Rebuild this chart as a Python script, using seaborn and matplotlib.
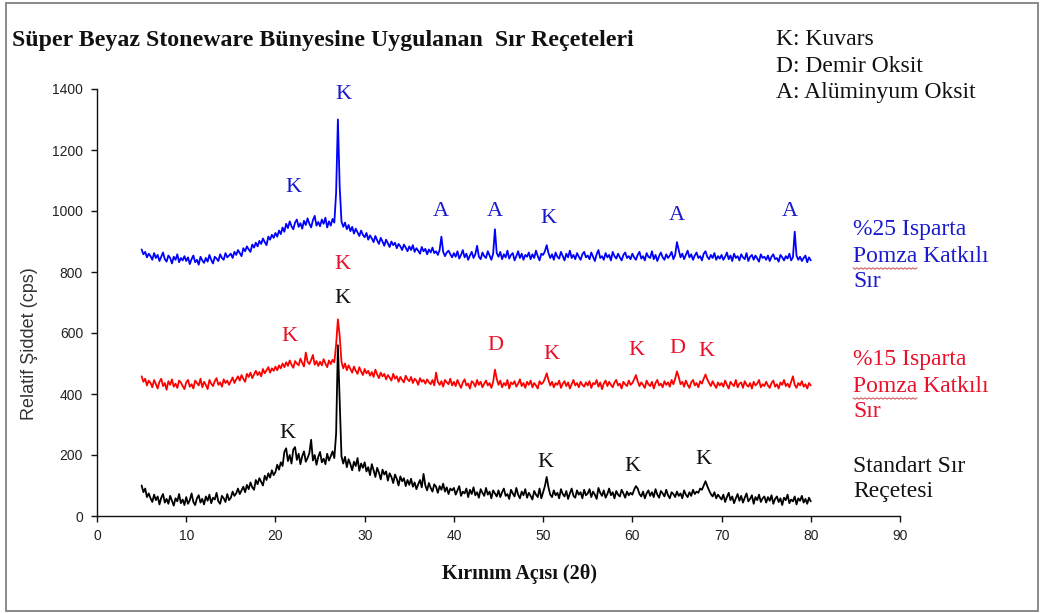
import numpy as np
import pandas as pd
import matplotlib
matplotlib.use("Agg")
import matplotlib.pyplot as plt
from matplotlib.patches import Rectangle
from matplotlib.lines import Line2D
import seaborn as sns

# Scan angles (2-theta), 0.2 degree step from 5 to 80
aci = np.round(np.arange(5.0, 80.0 + 0.1, 0.2), 2)

# Standard glaze recipe (cps)
standart = [
    100, 78, 90, 62, 74, 58, 46, 70, 52, 64, 38, 60, 72, 44, 56, 40, 66, 50, 34, 58, 48, 72, 42, 54, 36,
    62, 40, 52, 74, 46, 36, 58, 68, 44, 56, 38, 64, 50, 70, 42, 60, 54, 76, 48, 40, 66, 58, 46, 72, 52,
    60, 80, 66, 74, 90, 72, 84, 96, 78, 102, 88, 110, 94, 86, 118, 104, 124, 112, 100, 132, 118, 140, 126, 150, 134,
    144, 168, 152, 176, 164, 210, 222, 180, 200, 172, 218, 226, 184, 204, 170, 196, 212, 178, 190, 206, 250, 182, 200, 168, 194,
    210, 176, 188, 170, 204, 182, 196, 212, 190, 270, 560, 380, 196, 172, 194, 160, 186, 170, 150, 178, 164, 190, 148, 172, 158,
    176, 146, 160, 134, 170, 150, 128, 158, 142, 120, 152, 136, 146, 116, 140, 128, 108, 136, 122, 100, 130, 114, 124, 98, 118,
    102, 122, 96, 110, 88, 104, 118, 94, 138, 100, 84, 108, 92, 80, 104, 96, 76, 98, 86, 106, 80, 94, 72, 90, 84,
    92, 70, 84, 98, 66, 80, 74, 90, 62, 86, 72, 94, 68, 78, 60, 88, 76, 66, 92, 70, 80, 58, 84, 74, 64,
    84, 62, 78, 90, 66, 72, 56, 86, 74, 64, 92, 70, 58, 80, 68, 88, 60, 76, 66, 54, 82, 70, 62, 90, 58,
    78, 98, 128, 94, 70, 62, 84, 68, 76, 58, 88, 72, 64, 82, 56, 74, 90, 66, 60, 84, 70, 78, 58, 86, 68,
    74, 88, 62, 80, 70, 56, 92, 76, 66, 84, 60, 72, 90, 68, 78, 58, 82, 70, 64, 86, 74, 60, 80, 68, 76,
    70, 86, 98, 90, 72, 64, 80, 58, 74, 84, 66, 78, 62, 88, 70, 60, 82, 74, 64, 86, 68, 58, 78, 72, 62,
    80, 66, 74, 58, 84, 70, 62, 78, 66, 86, 72, 80, 76, 90, 86, 100, 114, 98, 84, 72, 64, 78, 58, 70, 62,
    54, 70, 46, 62, 76, 52, 64, 42, 58, 72, 50, 66, 44, 60, 74, 48, 56, 68, 40, 62, 52, 70, 46, 58, 64,
    44, 62, 50, 68, 40, 56, 64, 46, 58, 36, 60, 52, 70, 42, 54, 48, 64, 38, 58, 50, 66, 44, 56, 40, 60,
    48,
]

# %15 Isparta pumice added glaze (cps)
pomza15 = [
    458, 440, 450, 428, 444, 436, 422, 446, 432, 418, 440, 450, 426, 436, 414, 442, 430, 448, 424, 434, 420, 444, 438, 426, 416,
    438, 446, 424, 432, 418, 444, 436, 428, 450, 422, 440, 430, 416, 446, 434, 426, 442, 452, 430, 438, 424, 448, 436, 444, 430,
    442, 454, 436, 448, 458, 444, 462, 450, 440, 466, 456, 470, 452, 464, 476, 462, 472, 458, 482, 468, 478, 488, 470, 484, 476,
    490, 478, 494, 484, 500, 488, 504, 492, 510, 496, 486, 508, 500, 494, 516, 502, 490, 536, 506, 498, 512, 528, 496, 508, 492,
    506, 494, 514, 500, 488, 510, 498, 512, 504, 562, 645, 590, 506, 484, 500, 478, 494, 482, 470, 490, 476, 466, 488, 474, 462,
    482, 468, 476, 460, 472, 456, 480, 464, 452, 470, 458, 466, 448, 462, 454, 444, 466, 450, 458, 440, 456, 446, 438, 460, 448,
    442, 456, 436, 450, 444, 430, 452, 440, 446, 434, 448, 438, 432, 446, 428, 470, 440, 430, 442, 424, 446, 438, 432, 450, 428,
    440, 426, 446, 432, 420, 438, 448, 428, 434, 418, 442, 436, 424, 446, 430, 440, 422, 434, 444, 428, 436, 420, 440, 480, 450,
    430, 444, 422, 436, 428, 446, 418, 438, 432, 442, 424, 434, 448, 426, 436, 420, 440, 430, 444, 422, 436, 428, 418, 442, 432,
    438, 450, 468, 446, 428, 440, 422, 436, 430, 444, 420, 434, 442, 426, 438, 418, 432, 446, 428, 436, 422, 440, 430, 424, 438,
    428, 442, 420, 436, 432, 446, 424, 438, 416, 434, 444, 426, 440, 430, 422, 438, 446, 428, 434, 418, 440, 432, 426, 444, 430,
    436, 448, 462, 442, 426, 438, 430, 420, 444, 432, 426, 440, 418, 436, 446, 428, 434, 422, 442, 430, 438, 424, 446, 432, 450,
    474, 456, 432, 440, 424, 444, 430, 420, 438, 446, 428, 436, 422, 442, 434, 450, 464, 448, 436, 426, 442, 430, 420, 438, 428,
    436, 424, 444, 430, 418, 440, 432, 426, 446, 422, 434, 438, 420, 442, 430, 424, 436, 418, 440, 428, 434, 446, 422, 432, 426,
    440, 428, 420, 436, 444, 424, 432, 418, 438, 430, 446, 426, 434, 422, 440, 458, 430, 420, 436, 428, 442, 424, 432, 418, 436,
    428,
]

# %25 Isparta pumice added glaze (cps)
pomza25 = [
    874, 858, 866, 848, 860, 852, 840, 862, 846, 856, 836, 850, 864, 842, 834, 854, 846, 828, 850, 840, 858, 832, 846, 838, 852,
    836, 848, 826, 842, 854, 832, 840, 824, 850, 838, 830, 846, 834, 856, 840, 828, 850, 844, 836, 858, 846, 840, 862, 848, 854,
    860, 846, 866, 856, 872, 862, 852, 878, 868, 884, 874, 866, 890, 880, 896, 884, 902, 892, 910, 898, 888, 916, 906, 922, 912,
    928, 916, 936, 924, 946, 932, 958, 944, 966, 950, 940, 962, 972, 948, 960, 942, 968, 954, 976, 958, 946, 970, 984, 952, 964,
    950, 972, 958, 978, 946, 966, 952, 974, 962, 1060, 1300, 1080, 966, 948, 962, 940, 954, 934, 948, 926, 942, 930, 918, 936, 922,
    914, 928, 906, 920, 910, 898, 918, 904, 892, 912, 900, 886, 906, 894, 882, 900, 888, 896, 878, 892, 884, 872, 890, 880, 868,
    884, 872, 888, 866, 878, 870, 860, 882, 868, 876, 858, 874, 864, 880, 862, 868, 856, 872, 916, 866, 852, 864, 870, 858, 848,
    862, 850, 868, 844, 856, 872, 848, 860, 840, 854, 866, 846, 858, 886, 850, 842, 864, 852, 846, 868, 854, 840, 860, 940, 862,
    850, 866, 842, 858, 848, 870, 844, 856, 862, 838, 852, 868, 846, 860, 840, 856, 850, 864, 842, 858, 846, 870, 852, 838, 860,
    856, 868, 888, 862, 846, 858, 840, 864, 850, 844, 866, 852, 838, 860, 848, 870, 846, 856, 842, 862, 850, 840, 858, 866, 848,
    854, 842, 864, 850, 836, 858, 872, 846, 852, 840, 862, 848, 856, 838, 866, 852, 844, 860, 848, 838, 856, 864, 846, 852, 842,
    860, 848, 840, 856, 866, 844, 852, 838, 862, 850, 846, 868, 842, 856, 836, 852, 864, 848, 840, 858, 846, 854, 866, 842, 856,
    898, 872, 848, 860, 842, 856, 870, 848, 858, 840, 854, 864, 846, 852, 838, 860, 868, 850, 842, 856, 846, 862, 840, 852, 844,
    856, 840, 850, 864, 842, 854, 836, 860, 846, 852, 838, 858, 848, 842, 862, 836, 850, 856, 840, 854, 844, 834, 858, 846, 850,
    840, 854, 836, 850, 858, 842, 846, 834, 856, 848, 838, 852, 844, 860, 838, 848, 932, 854, 840, 850, 836, 846, 854, 832, 848,
    838,
]

for _seri in (standart, pomza15, pomza25):
    if len(_seri) != len(aci):
        raise ValueError(f"series length {len(_seri)} != {len(aci)}")

seri_adlari = ["Standart Sır Reçetesi", "%15 Isparta Pomza Katkılı Sır", "%25 Isparta Pomza Katkılı Sır"]
seri_renkleri = ["#000000", "#ff0000", "#0000ff"]
etiket_renkleri = ["#111111", "#e8102a", "#1a1acc"]

x_ticks = list(range(0, 91, 10))
y_ticks = list(range(0, 1401, 200))

# Phase letters per series: letter, angle, label height
faz_harfleri = [
    [("K", 21.3, 272), ("K", 27.5, 712), ("K", 50.3, 174), ("K", 60.0, 161), ("K", 68.0, 184)],
    [("K", 21.6, 587), ("K", 27.5, 823), ("D", 44.6, 558), ("K", 50.9, 531),
     ("K", 60.5, 541), ("D", 65.0, 548), ("K", 68.3, 538)],
    [("K", 22.0, 1076), ("K", 27.6, 1381), ("A", 38.5, 1000), ("A", 44.6, 1000),
     ("K", 50.6, 974), ("A", 65.0, 984), ("A", 77.7, 997)],
]

seri_yazilari = [
    ["Standart Sır", "Reçetesi"],
    ["%15 Isparta", "Pomza Katkılı", "Sır"],
    ["%25 Isparta", "Pomza Katkılı", "Sır"],
]

aciklama = ["K: Kuvars", "D: Demir Oksit", "A: Alüminyum Oksit"]
baslik = "Süper Beyaz Stoneware Bünyesine Uygulanan  Sır Reçeteleri"
x_baslik = "Kırınım Açısı (2θ)"
y_baslik = "Relatif Şiddet (cps)"

sns.set_style("ticks")
plt.rcParams["font.family"] = ["Liberation Sans", "DejaVu Sans"]
SERIF = ["Liberation Serif", "DejaVu Serif"]

W, H = 1043, 613
fig = plt.figure(figsize=(W / 100, H / 100), dpi=100)
ax = fig.add_axes([97 / W, 1 - 516 / H, (900 - 97) / W, (516 - 89) / H])


def fx(px):
    return px / W


def fy(py):
    return 1 - py / H


df = pd.concat([
    pd.DataFrame({"aci": aci, "siddet": vals, "seri": name})
    for name, vals in zip(seri_adlari, [standart, pomza15, pomza25])
], ignore_index=True)

sns.lineplot(data=df, x="aci", y="siddet", hue="seri", hue_order=seri_adlari,
             palette=seri_renkleri, estimator=None, sort=False, linewidth=1.3,
             legend=False, ax=ax)

ax.set_xlim(0, 90)
ax.set_ylim(0, 1400)
ax.set_xticks(x_ticks)
ax.set_yticks(y_ticks)
ax.set_xlabel("")
ax.set_ylabel("")
for side in ("top", "right"):
    ax.spines[side].set_visible(False)
for side in ("left", "bottom"):
    ax.spines[side].set_color("#111111")
    ax.spines[side].set_linewidth(1.0)
ax.tick_params(axis="both", direction="out", length=4, width=1.0, color="#111111",
               labelsize=10, labelcolor="#222222")
ax.tick_params(axis="y", pad=6)
ax.tick_params(axis="x", pad=5)

# Phase letters above the peaks
for renk, harfler in zip(etiket_renkleri, faz_harfleri):
    for harf, xa, ya in harfler:
        ax.text(xa, ya, harf, color=renk, fontsize=16, family=SERIF,
                ha="center", va="center")

# Series names on the right
satir_y = [[472, 497], [365, 392, 417], [235, 262, 287]]
pomza_satirlari = []
for renk, satirlar, ys in zip(etiket_renkleri, seri_yazilari, satir_y):
    for s, py in zip(satirlar, ys):
        fig.text(fx(853), fy(py), s, color=renk, fontsize=17, family=SERIF,
                 ha="left", va="baseline")
        if s.startswith("Pomza"):
            pomza_satirlari.append(py)

# Phase key
for s, py in zip(aciklama, [45, 72, 98]):
    fig.text(fx(776), fy(py), s, color="#111111", fontsize=17, family=SERIF,
             ha="left", va="baseline")

fig.text(fx(12), fy(46), baslik, fontsize=17.2, fontweight="bold", family=SERIF,
         color="#111111", ha="left", va="baseline")
fig.text(fx(520), fy(579), x_baslik, fontsize=14.5, fontweight="bold", family=SERIF,
         color="#111111", ha="center", va="baseline")
fig.text(fx(30), fy(344), y_baslik, fontsize=13, color="#333333",
         rotation=90, ha="center", va="center")

# Spell-check squiggle under the word "Pomza"
olcu = fig.text(0, 0, "Pomza", fontsize=17, family=SERIF, alpha=0)
fig.canvas.draw()
kelime_gen = olcu.get_window_extent().width
olcu.remove()
for py in pomza_satirlari:
    n = int(kelime_gen // 2)
    xs = [853 + 2 * i for i in range(n + 1)]
    ys = [py + 6 + (1.2 if i % 2 else -0.2) for i in range(n + 1)]
    fig.add_artist(Line2D([fx(v) for v in xs], [fy(v) for v in ys],
                          transform=fig.transFigure, color="#d04a4a", linewidth=0.7))

fig.patches.append(Rectangle((fx(6), fy(611)), fx(1038) - fx(6), fy(3) - fy(611),
                             transform=fig.transFigure, fill=False,
                             edgecolor="#808080", linewidth=1.3))

fig.savefig("out.png", dpi=100, facecolor="white")
